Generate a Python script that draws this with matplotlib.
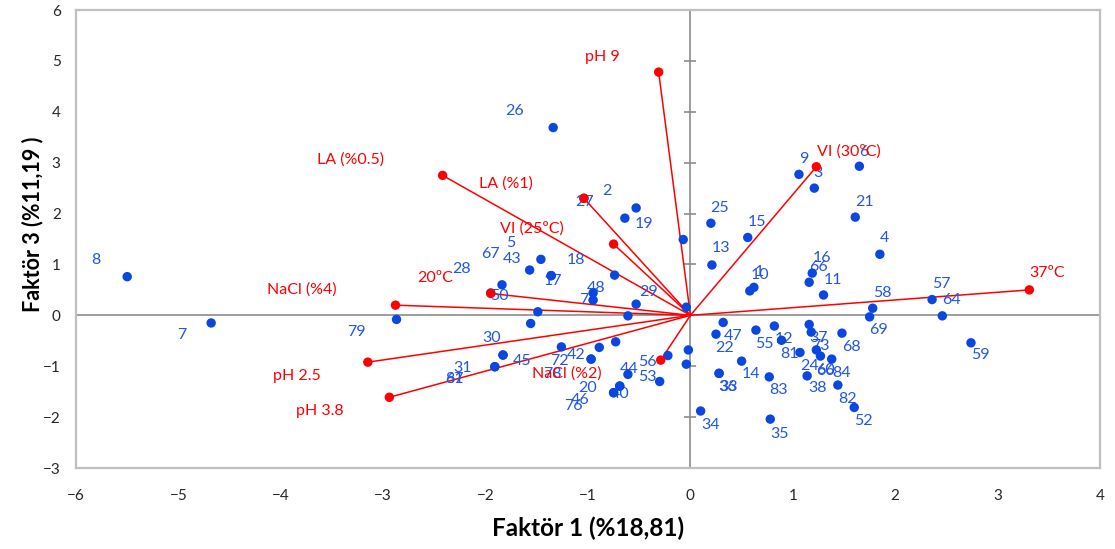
import matplotlib.pyplot as plt

plt.rcParams['font.family'] = ['Lato', 'DejaVu Sans']

# sample scores on Faktör 1 / Faktör 3
labels = ["8", "7", "79", "26", "2", "19", "27", "5", "67", "43", "17", "28", "50", "18",
          "29", "30", "31", "45", "61", "87", "72", "42", "78", "20", "46", "40", "76",
          "44", "53", "56", "34", "35", "47", "22", "55", "12", "81", "24", "14", "36",
          "33", "83", "38", "82", "52", "68", "84", "37", "73", "60", "66", "69", "59",
          "64", "57", "58", "11", "66", "16", "1", "10", "13", "25", "15", "9", "3", "6",
          "21", "4", "", "", "", "", "", "", "", "", "48", "74"]
f1 = [-5.50, -4.68, -2.87, -1.34, -0.53, -0.64, -1.04, -1.46, -1.57, -1.36, -1.36, -1.84,
      -1.95, -0.74, -0.53, -1.56, -1.83, -1.83, -1.91, -1.91, -1.26, -0.97, -0.97, -0.69,
      -0.69, -0.75, -0.75, -0.61, -0.30, -0.22, 0.10, 0.78, 0.32, 0.25, 0.64, 0.82, 0.89,
      1.07, 0.50, 0.28, 0.28, 0.77, 1.14, 1.44, 1.60, 1.48, 1.38, 1.16, 1.18, 1.23, 1.27,
      1.75, 2.74, 2.46, 2.36, 1.78, 1.30, 1.16, 1.19, 0.62, 0.58, 0.21, 0.20, 0.56, 1.06,
      1.21, 1.65, 1.61, 1.85, -0.07, -0.04, -0.02, -0.04, -1.49, -0.61, -0.73, -0.89,
      -0.95, -0.95]
f3 = [0.76, -0.15, -0.08, 3.69, 2.11, 1.91, 2.30, 1.10, 0.89, 0.78, 0.78, 0.60,
      0.44, 0.79, 0.22, -0.16, -0.78, -0.78, -1.01, -1.01, -0.62, -0.86, -0.86, -1.39,
      -1.39, -1.52, -1.52, -1.16, -1.30, -0.79, -1.88, -2.04, -0.14, -0.37, -0.29, -0.21,
      -0.49, -0.73, -0.90, -1.14, -1.14, -1.21, -1.19, -1.37, -1.81, -0.35, -0.86, -0.18,
      -0.33, -0.68, -0.80, -0.03, -0.54, -0.01, 0.31, 0.14, 0.40, 0.65, 0.83, 0.55, 0.48,
      0.99, 1.81, 1.53, 2.77, 2.50, 2.93, 1.93, 1.20, 1.49, 0.16, -0.68, -0.96, 0.07,
      -0.01, -0.52, -0.63, 0.44, 0.30]
# where each number sits relative to its point (pixels, right / down)
lab_dx = [-31, -29, -40, -39, -29, 19, 1, -30, -39, -39, 2, -40, 9, -39,
          12, -39, -40, 19, -40, -40, -2, -15, -39, -32, -40, 7, -40,
          1, -12, -20, 10, 9, 10, 9, 8, 10, 8, 10, 9, 9,
          9, 9, 10, 10, 9, 9, 10, 9, 9, 9, 5, 9, 9,
          9, 9, 10, 9, 9, 10, 5, 10, 9, 9, 9, 5, 4, 4,
          9, 5, 0, 0, 0, 0, 0, 0, 0, 0, 3, -5]
lab_dy = [-18, 11, 11, -18, -18, 4, 2, -18, -18, -18, 4, -17, 2, -17,
          -14, 13, 11, 4, 11, 11, 13, -6, 13, 0, 12, 0, 12,
          -7, -6, 5, 12, 13, 12, 12, 12, 11, 12, 12, 11, 12,
          12, 12, 11, 12, 12, 12, 12, 12, 12, 19, 13, 12, 11,
          -17, -17, -17, -16, -17, -17, -17, -17, -18, -17, -17, -17, -17, -16,
          -17, -18, 0, 0, 0, 0, 0, 0, 0, 0, -6, -2]

# variable loadings (vectors)
var_names = ["pH 9", "LA (%0.5)", "LA (%1)", "VI (25ºC)", "VI (30ºC)", "37ºC", "20ºC",
             "NaCl (%4)", "pH 2.5", "pH 3.8", "NaCl (%2)"]
v1 = [-0.31, -2.42, -1.04, -0.75, 1.23, 3.31, -1.95, -2.88, -3.15, -2.94, -0.29]
v3 = [4.78, 2.75, 2.30, 1.40, 2.92, 0.50, 0.43, 0.20, -0.92, -1.61, -0.88]
var_dx = [-56, -92, -78, -82, 33, 18, -56, -94, -71, -70, -94]
var_dy = [-17, -17, -16, -17, -17, -18, -17, -17, 12, 12, 12]

blue = '#0A46E0'
blue_txt = '#2357E3'
red = '#FF0000'

fig = plt.figure(figsize=(11.15, 5.49), dpi=100)
ax = fig.add_axes([76 / 1115, 1 - 468 / 549, 1024 / 1115, 458 / 549])

ax.set_xlim(-6, 4)
ax.set_ylim(-3, 6)
ax.set_xticks(range(-6, 5))
ax.set_yticks(range(-3, 7))
ax.tick_params(length=0, labelsize=11, colors='#262626')
ax.tick_params(axis='x', pad=15)
ax.tick_params(axis='y', pad=11)
for s in ax.spines.values():
    s.set_color('#BFBFBF')
    s.set_linewidth(1.6)

# axes through the origin
ax.axhline(0, color='#8C8C8C', lw=1.2, zorder=1)
ax.axvline(0, color='#8C8C8C', lw=1.2, zorder=1)
ax.plot([0] * 10, range(-3, 7), ls='none', marker='_', ms=8, mew=1.2,
        color='#8C8C8C', zorder=1)

for x, y in zip(v1, v3):
    ax.plot([0, x], [0, y], color=red, lw=1.1, zorder=2)

for lab, x, y, dx, dy in zip(labels, f1, f3, lab_dx, lab_dy):
    if lab:
        ax.annotate(lab, (x, y), xytext=(dx, -dy), textcoords='offset pixels',
                    ha='center', va='center_baseline', color=blue_txt, fontsize=11.5,
                    zorder=3)
ax.scatter(f1, f3, s=46, color=blue, edgecolors='none', zorder=4)

ax.scatter(v1, v3, s=46, color=red, edgecolors='none', zorder=5)
for name, x, y, dx, dy in zip(var_names, v1, v3, var_dx, var_dy):
    ax.annotate(name, (x, y), xytext=(dx, -dy), textcoords='offset pixels',
                ha='center', va='center_baseline', color=red, fontsize=11.5, zorder=6)

ax.set_xlabel('Faktör 1 (%18,81)', fontsize=17.5, fontweight='bold')
ax.set_ylabel('Faktör 3 (%11,19 )', fontsize=15.5, fontweight='bold')
ax.xaxis.set_label_coords(0.5, -0.105)
ax.yaxis.set_label_coords(-0.032, 0.533)

fig.savefig('out.png', dpi=100)
